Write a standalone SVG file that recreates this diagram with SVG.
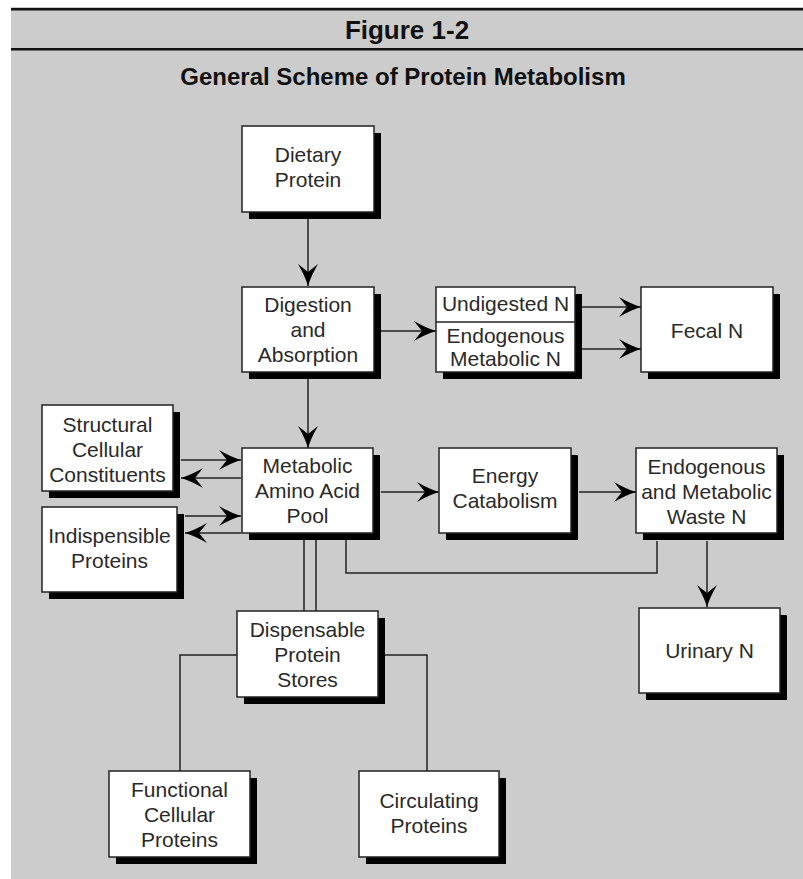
<svg xmlns="http://www.w3.org/2000/svg" width="803" height="879" viewBox="0 0 803 879">
  <style>
    .bg { fill: #cccccc; }
    .rule { stroke: #111111; stroke-width: 2.6; fill: none; }
    .box { fill: #ffffff; stroke: #222222; stroke-width: 1.5; }
    .shadow { fill: #000000; }
    .lbl { font-family: "Liberation Sans", Arial, Helvetica, sans-serif; font-size: 21px; fill: #2a2a2a; text-anchor: middle; }
    .title { font-family: "Liberation Sans", Arial, Helvetica, sans-serif; font-weight: bold; fill: #111111; text-anchor: middle; }
    .wire { stroke: #222222; stroke-width: 1.5; fill: none; }
    .arrow { marker-end: url(#head); }
  </style>
  <defs>
    <marker id="head" markerUnits="userSpaceOnUse" markerWidth="26" markerHeight="24" viewBox="-24 -12 26 24" refX="0" refY="0" orient="auto">
      <path d="M0,0 Q-10,-3 -22,-10 L-14,0 L-22,10 Q-10,3 0,0 Z" fill="#000000"/>
    </marker>
  </defs>

  <!-- page background and header rules -->
  <rect class="bg" x="11" y="7" width="792" height="872"/>
  <line class="rule" x1="11" y1="9.2" x2="803" y2="9.2"/>
  <line class="rule" x1="11" y1="49.2" x2="803" y2="49.2"/>
  <text class="title" x="407" y="39" font-size="26">Figure 1-2</text>
  <text class="title" x="403" y="85" font-size="24">General Scheme of Protein Metabolism</text>

  <!-- connectors -->
  <g id="connectors">
    <line class="wire arrow" x1="308" y1="219" x2="308" y2="286"/>
    <line class="wire arrow" x1="381" y1="331" x2="436" y2="331"/>
    <line class="wire arrow" x1="582" y1="307" x2="641" y2="307"/>
    <line class="wire arrow" x1="582" y1="349" x2="641" y2="349"/>
    <line class="wire arrow" x1="308" y1="379" x2="308" y2="448"/>
    <line class="wire arrow" x1="181" y1="460" x2="241" y2="460"/>
    <line class="wire arrow" x1="241" y1="478" x2="181" y2="478"/>
    <line class="wire arrow" x1="185" y1="516" x2="241" y2="516"/>
    <line class="wire arrow" x1="241" y1="533" x2="185" y2="533"/>
    <line class="wire arrow" x1="381" y1="492" x2="439" y2="492"/>
    <line class="wire arrow" x1="579" y1="492" x2="636" y2="492"/>
    <line class="wire arrow" x1="707" y1="541" x2="707" y2="607"/>
    <polyline class="wire" points="346,540 346,573 657,573 657,541"/>
    <line class="wire" x1="304" y1="540" x2="304" y2="611"/>
    <line class="wire" x1="316" y1="540" x2="316" y2="611"/>
    <polyline class="wire" points="237,655 180,655 180,771"/>
    <polyline class="wire" points="385,655 427,655 427,771"/>
  </g>

  <g id="dietary-protein">
    <rect class="shadow" x="249" y="133" width="132" height="86"/>
    <rect class="box" x="242" y="126" width="132" height="86"/>
    <text class="lbl" x="308" y="162">Dietary</text>
    <text class="lbl" x="308" y="187">Protein</text>
  </g>

  <g id="digestion-absorption">
    <rect class="shadow" x="249" y="294" width="132" height="85"/>
    <rect class="box" x="242" y="287" width="132" height="85"/>
    <text class="lbl" x="308" y="312">Digestion</text>
    <text class="lbl" x="308" y="337">and</text>
    <text class="lbl" x="308" y="362">Absorption</text>
  </g>

  <g id="undigested-endogenous">
    <rect class="shadow" x="443" y="294" width="139" height="85"/>
    <rect class="box" x="436" y="287" width="139" height="85"/>
    <line class="wire" x1="436" y1="322" x2="575" y2="322"/>
    <text class="lbl" x="505.5" y="311">Undigested N</text>
    <text class="lbl" x="505.5" y="343">Endogenous</text>
    <text class="lbl" x="505.5" y="366">Metabolic N</text>
  </g>

  <g id="fecal-n">
    <rect class="shadow" x="648" y="294" width="132" height="85"/>
    <rect class="box" x="641" y="287" width="132" height="85"/>
    <text class="lbl" x="707" y="338">Fecal N</text>
  </g>

  <g id="structural-cellular-constituents">
    <rect class="shadow" x="49" y="412" width="131" height="86"/>
    <rect class="box" x="42" y="405" width="131" height="86"/>
    <text class="lbl" x="107.5" y="432">Structural</text>
    <text class="lbl" x="107.5" y="457">Cellular</text>
    <text class="lbl" x="107.5" y="482">Constituents</text>
  </g>

  <g id="metabolic-amino-acid-pool">
    <rect class="shadow" x="249" y="455" width="131" height="85"/>
    <rect class="box" x="242" y="448" width="131" height="85"/>
    <text class="lbl" x="307.5" y="473">Metabolic</text>
    <text class="lbl" x="307.5" y="498">Amino Acid</text>
    <text class="lbl" x="307.5" y="523">Pool</text>
  </g>

  <g id="energy-catabolism">
    <rect class="shadow" x="446" y="455" width="132" height="85"/>
    <rect class="box" x="439" y="448" width="132" height="85"/>
    <text class="lbl" x="505" y="483">Energy</text>
    <text class="lbl" x="505" y="508">Catabolism</text>
  </g>

  <g id="endogenous-metabolic-waste-n">
    <rect class="shadow" x="643" y="455" width="141" height="85"/>
    <rect class="box" x="636" y="448" width="141" height="85"/>
    <text class="lbl" x="706.5" y="474">Endogenous</text>
    <text class="lbl" x="706.5" y="499">and Metabolic</text>
    <text class="lbl" x="706.5" y="524">Waste N</text>
  </g>

  <g id="indispensible-proteins">
    <rect class="shadow" x="49" y="514" width="135" height="85"/>
    <rect class="box" x="42" y="507" width="135" height="85"/>
    <text class="lbl" x="109.5" y="543">Indispensible</text>
    <text class="lbl" x="109.5" y="568">Proteins</text>
  </g>

  <g id="urinary-n">
    <rect class="shadow" x="646" y="615" width="141" height="85"/>
    <rect class="box" x="639" y="608" width="141" height="85"/>
    <text class="lbl" x="709.5" y="658">Urinary N</text>
  </g>

  <g id="dispensable-protein-stores">
    <rect class="shadow" x="244" y="618" width="141" height="86"/>
    <rect class="box" x="237" y="611" width="141" height="86"/>
    <text class="lbl" x="307.5" y="637">Dispensable</text>
    <text class="lbl" x="307.5" y="662">Protein</text>
    <text class="lbl" x="307.5" y="687">Stores</text>
  </g>

  <g id="functional-cellular-proteins">
    <rect class="shadow" x="116" y="778" width="141" height="86"/>
    <rect class="box" x="109" y="771" width="141" height="86"/>
    <text class="lbl" x="179.5" y="797">Functional</text>
    <text class="lbl" x="179.5" y="822">Cellular</text>
    <text class="lbl" x="179.5" y="847">Proteins</text>
  </g>

  <g id="circulating-proteins">
    <rect class="shadow" x="366" y="778" width="140" height="86"/>
    <rect class="box" x="359" y="771" width="140" height="86"/>
    <text class="lbl" x="429" y="808">Circulating</text>
    <text class="lbl" x="429" y="833">Proteins</text>
  </g>
</svg>
